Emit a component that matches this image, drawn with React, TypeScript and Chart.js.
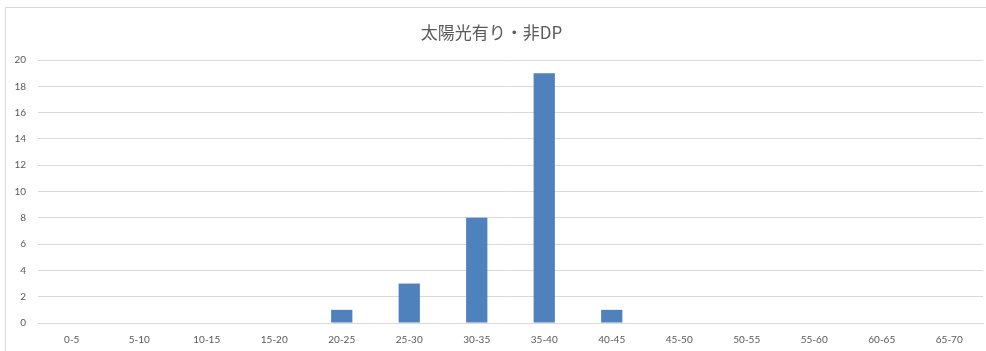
import React, { useEffect, useRef } from "react";
import { Chart, registerables } from "chart.js";

Chart.register(...registerables);

const chartTitle = "太陽光有り・非DP";
const ageBands = [
  "0-5", "5-10", "10-15", "15-20", "20-25", "25-30", "30-35",
  "35-40", "40-45", "45-50", "50-55", "55-60", "60-65", "65-70",
];
const counts = [0, 0, 0, 0, 1, 3, 8, 19, 1, 0, 0, 0, 0, 0];
const yTicks = [0, 2, 4, 6, 8, 10, 12, 14, 16, 18, 20];

const textColor = "#595959";
const gridColor = "#d9d9d9";
const barColor = "#4f81bd";
const tickFont = "Lato, 'Noto Sans', sans-serif";

export default function App() {
  const canvasRef = useRef<HTMLCanvasElement | null>(null);

  useEffect(() => {
    document.body.style.margin = "0";
    const canvas = canvasRef.current;
    if (!canvas) return;
    const chart = new Chart(canvas, {
      type: "bar",
      data: {
        labels: ageBands,
        datasets: [
          {
            data: counts,
            backgroundColor: barColor,
            borderWidth: 0,
            categoryPercentage: 1,
            barPercentage: 0.315,
          },
        ],
      },
      options: {
        animation: false,
        responsive: false,
        maintainAspectRatio: false,
        layout: { padding: { left: 0, right: 3, top: 0, bottom: 0 } },
        plugins: {
          legend: { display: false },
          tooltip: { enabled: false },
          title: {
            display: true,
            text: chartTitle,
            color: textColor,
            font: { family: "'Noto Sans CJK JP', sans-serif", size: 17, weight: "normal" },
            padding: { top: 22, bottom: 17.6 },
          },
        },
        scales: {
          x: {
            grid: { display: false, drawTicks: false },
            border: { display: true, color: gridColor, width: 1 },
            ticks: {
              color: textColor,
              font: { family: tickFont, size: 10 },
              padding: 11,
              maxRotation: 0,
              autoSkip: false,
            },
            afterFit: (s: any) => {
              s.height = 28;
            },
          },
          y: {
            min: 0,
            max: 20,
            afterBuildTicks: (s: any) => {
              s.ticks = yTicks.map((v) => ({ value: v }));
            },
            grid: { color: gridColor, lineWidth: 1, drawTicks: false },
            border: { display: false },
            ticks: {
              color: textColor,
              font: { family: tickFont, size: 10 },
              padding: 12,
            },
            afterFit: (s: any) => {
              s.width = 38;
            },
          },
        },
      },
    });
    return () => chart.destroy();
  }, []);

  return (
    <div style={{ position: "fixed", left: 0, top: 0, width: 986, height: 351, background: "#fff", overflow: "hidden" }}>
      <div
        style={{
          position: "absolute",
          left: 5,
          top: 7,
          width: 1200,
          height: 600,
          borderLeft: `1px solid ${gridColor}`,
          borderTop: `1px solid ${gridColor}`,
        }}
      />
      <canvas ref={canvasRef} width={986} height={351} style={{ position: "absolute", left: 0, top: 0 }} />
    </div>
  );
}
